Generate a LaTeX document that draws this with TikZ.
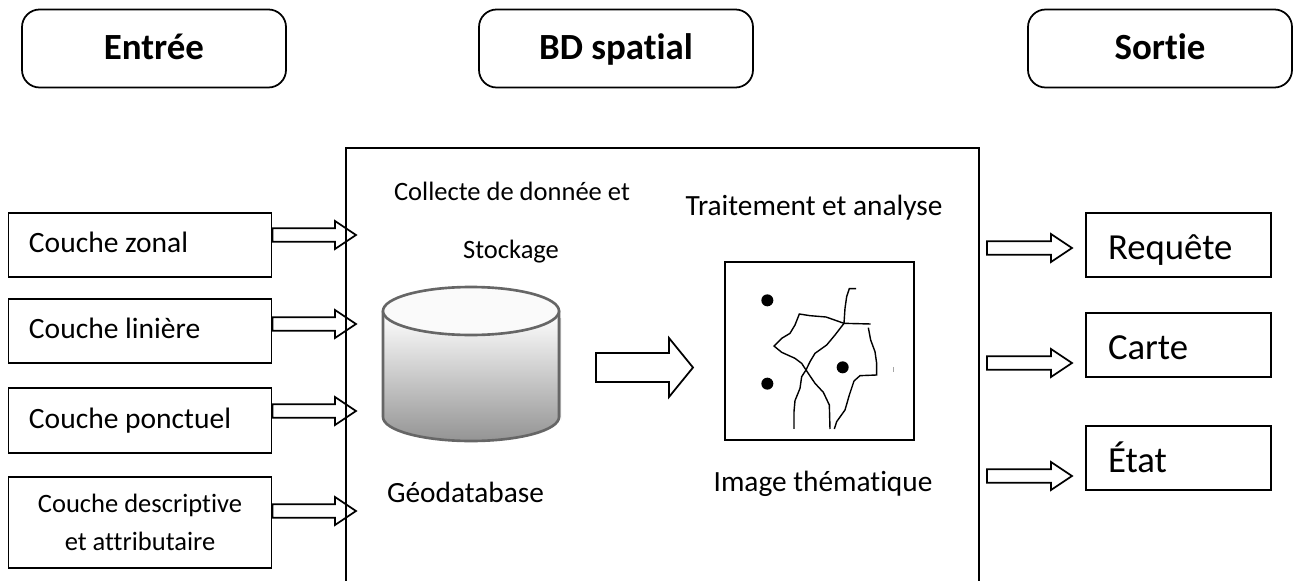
\documentclass[tikz,border=0pt]{standalone}
\usepackage{fontspec}
\setmainfont[Ligatures=NoCommon]{Carlito}
\usepackage{tikz}
\usetikzlibrary{calc}
\tikzset{
  headbox/.style={draw, line width=1pt, rounded corners=10pt, minimum height=78*0.02cm, text height=16pt, text depth=4pt, font=\fontsize{21}{25}\selectfont\bfseries},
  layerbox/.style={draw, line width=1pt, minimum width=263*0.02cm, align=center, font=\fontsize{16.8}{20}\selectfont},
  onelayer/.style={layerbox, text width=222*0.02cm, align=left, text height=13.5pt, text depth=4.5pt, execute at begin node={\spaceskip=0.226em\relax}},
  outbox/.style={draw, line width=1pt, minimum width=185*0.02cm, minimum height=64*0.02cm, text width=141*0.02cm, align=left, text height=21pt, text depth=4.6pt, font=\fontsize{20.9}{25}\selectfont},
  label/.style={font=\fontsize{16.7}{20}\selectfont},
  blockarrow/.style args={#1/#2/#3}{line width=1pt, to path={let \p1=(\tikztostart), \p2=(\tikztotarget) in
    (\x1,\y2+#1) -- (\x2-#2,\y2+#1) -- (\x2-#2,\y2+#3) -- (\x2,\y2) -- (\x2-#2,\y2-#3) -- (\x2-#2,\y2-#1) -- (\x1,\y2-#1) -- cycle}},
  smallarrow/.style={blockarrow=3.8pt/12pt/8pt},
  mapline/.style={line width=0.8pt}
}
\begin{document}
\begin{tikzpicture}[x=0.02cm, y=-0.02cm]
  \useasboundingbox (0,0) rectangle (1294,581);
  % titres
  \node[headbox, minimum width=264*0.02cm] (entree) at (154,48.5) {Entrée};
  \node[headbox, minimum width=274*0.02cm] (bdspatial) at (616,48.5) {BD spatial};
  \node[headbox, minimum width=264*0.02cm] (sortie) at (1160,48.5) {Sortie};
  % cadre central
  \draw[line width=1pt] (346,581) -- (346,148) -- (979,148) -- (979,581);
  % couches
  \node[onelayer, minimum height=64*0.02cm] (zonal) at (140,245) {Couche zonal};
  \node[onelayer, minimum height=64*0.02cm] (liniere) at (140,331) {Couche linière};
  \node[onelayer, minimum height=65*0.02cm] (ponctuel) at (140,420.5) {Couche ponctuel};
  \node[layerbox, minimum height=91*0.02cm, font=\fontsize{15.1}{21.7}\selectfont] (descriptive) at (140,522.5) {Couche descriptive\\et attributaire};
  \coordinate (tipzonal) at (356,235);
  \coordinate (tipliniere) at (356,324);
  \coordinate (tipponctuel) at (356,411);
  \coordinate (tipdescriptive) at (356,511);
  \draw[smallarrow] (zonal.east) to (tipzonal);
  \draw[smallarrow] (liniere.east) to (tipliniere);
  \draw[smallarrow] (ponctuel.east) to (tipponctuel);
  \draw[smallarrow] (descriptive.east) to (tipdescriptive);
  % textes du cadre
  \node[label, font=\fontsize{15.1}{18}\selectfont] (collecte) at (512,191) {Collecte de donnée et};
  \node[label, font=\fontsize{15.1}{18}\selectfont] (stockage) at (511,252) {Stockage};
  \node[label] (traitement) at (814,208) {Traitement et analyse};
  \node[label] (geodatabase) at (465.5,492) {Géodatabase};
  \node[label] (thematique) at (823,484) {Image thématique};
  % geodatabase
  \fill[black!22] (385,420) -- (385,318) -- (561,318) -- (561,420) arc (0:180:88 and -25);
  \shade[top color=white, bottom color=black!42, draw=black!60, line width=1.5pt]
    (383,312) -- (383,417) arc (180:360:88 and -24) -- (559,312) -- cycle;
  \draw[black!60, fill=black!2, line width=1.5pt] (471,311) ellipse (88 and 24);
  % image
  \node[draw, line width=1pt, minimum width=189*0.02cm, minimum height=178*0.02cm] (image) at (819.5,351) {};
  \coordinate (dbout) at (596,367.5);
  \coordinate (imagein) at (693,367.5);
  \draw[blockarrow=8.2pt/13.6pt/16.7pt] (dbout) to (imagein);
  \begin{scope}[shift={(720,255)}, x=0.00667cm, y=-0.00667cm]
    \fill (142,136) circle (18);
    \fill (142,386) circle (18);
    \fill (368,337) circle (18);
    \draw[mapline] (408,101) -- (388,101) -- (380,125) -- (375,160) -- (372,205) -- (345,240) -- (320,270) -- (285,295) -- (270,320) -- (258,345) -- (245,365) -- (240,400) -- (225,437) -- (222,470) -- (222,522);
    \draw[mapline] (372,205) -- (318,186) -- (270,182) -- (238,177) -- (225,210) -- (210,235) -- (185,250) -- (162,273) -- (185,292) -- (225,310) -- (245,325) -- (258,345) -- (285,385) -- (310,412) -- (328,450) -- (330,522);
    \draw[mapline] (372,205) -- (452,207);
    \draw[mapline] (445,218) -- (452,255) -- (465,290) -- (470,325) -- (470,360) -- (420,362) -- (402,378) -- (388,420) -- (375,465) -- (350,500) -- (343,522);
    \draw[black!35, line width=0.5pt] (520,336) -- (520,352);
  \end{scope}
  % sorties
  \node[outbox] (requete) at (1178.5,245) {Requête};
  \node[outbox] (carte) at (1178.5,345) {Carte};
  \node[outbox] (etat) at (1178.5,458) {État};
  \coordinate (outrequete) at (987,248);
  \coordinate (tiprequete) at (1072,248);
  \coordinate (outcarte) at (987,363);
  \coordinate (tipcarte) at (1072,363);
  \coordinate (outetat) at (987,476);
  \coordinate (tipetat) at (1072,476);
  \draw[smallarrow] (outrequete) to (tiprequete);
  \draw[smallarrow] (outcarte) to (tipcarte);
  \draw[smallarrow] (outetat) to (tipetat);
\end{tikzpicture}
\end{document}
